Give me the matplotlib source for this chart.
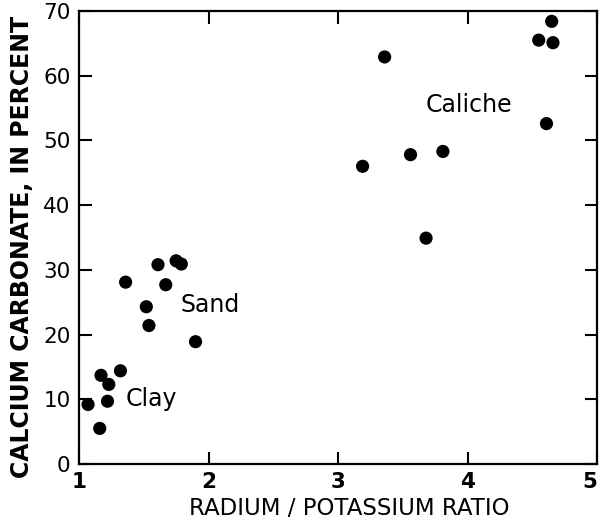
import matplotlib
matplotlib.use('Agg')
import matplotlib.pyplot as plt

plt.rcParams['font.family'] = ['DejaVu Sans']

# radium / potassium ratio vs calcium carbonate (percent)
clay_x = [1.07, 1.16, 1.22, 1.17, 1.23, 1.32]
clay_y = [9.2, 5.5, 9.7, 13.7, 12.3, 14.4]

sand_x = [1.36, 1.61, 1.75, 1.79, 1.67, 1.52, 1.54, 1.90]
sand_y = [28.1, 30.8, 31.4, 30.9, 27.7, 24.3, 21.4, 18.9]

caliche_x = [4.65, 4.55, 4.66, 3.36, 4.61, 3.19, 3.56, 3.81, 3.68]
caliche_y = [68.4, 65.5, 65.1, 62.9, 52.6, 46.0, 47.8, 48.3, 34.9]

x_ticks = [1, 2, 3, 4, 5]
y_ticks = [0, 10, 20, 30, 40, 50, 60, 70]

fig = plt.figure(figsize=(6.02, 5.21), dpi=100)
ax = fig.add_axes([79 / 602, 1 - 464 / 521, (597 - 79) / 602, (464 - 11) / 521])

for xs, ys in [(clay_x, clay_y), (sand_x, sand_y), (caliche_x, caliche_y)]:
    ax.scatter(xs, ys, s=90, color='black', edgecolors='none', zorder=3)

ax.text(1.36, 10.0, 'Clay', fontsize=17, va='center', ha='left')
ax.text(1.78, 24.6, 'Sand', fontsize=17, va='center', ha='left')
ax.text(3.68, 55.5, 'Caliche', fontsize=17, va='center', ha='left')

ax.set_xlim(1, 5)
ax.set_ylim(0, 70)
ax.set_xticks(x_ticks)
ax.set_yticks(y_ticks)
ax.tick_params(direction='in', length=9, width=1.5, top=True, right=True,
               labelsize=15.5, pad=6)
for lab in ax.get_xticklabels():
    lab.set_fontweight('bold')
ax.get_xticklabels()[-1].set_horizontalalignment('right')
for sp in ax.spines.values():
    sp.set_linewidth(1.6)

ax.set_xlabel('RADIUM / POTASSIUM RATIO', fontsize=16.5)
ax.xaxis.set_label_coords(0.521, -0.073)
ax.set_ylabel('CALCIUM CARBONATE, IN PERCENT', fontsize=17, fontweight='bold')
ax.yaxis.set_label_coords(-0.087, 0.48)

plt.savefig('out.png', dpi=100)
